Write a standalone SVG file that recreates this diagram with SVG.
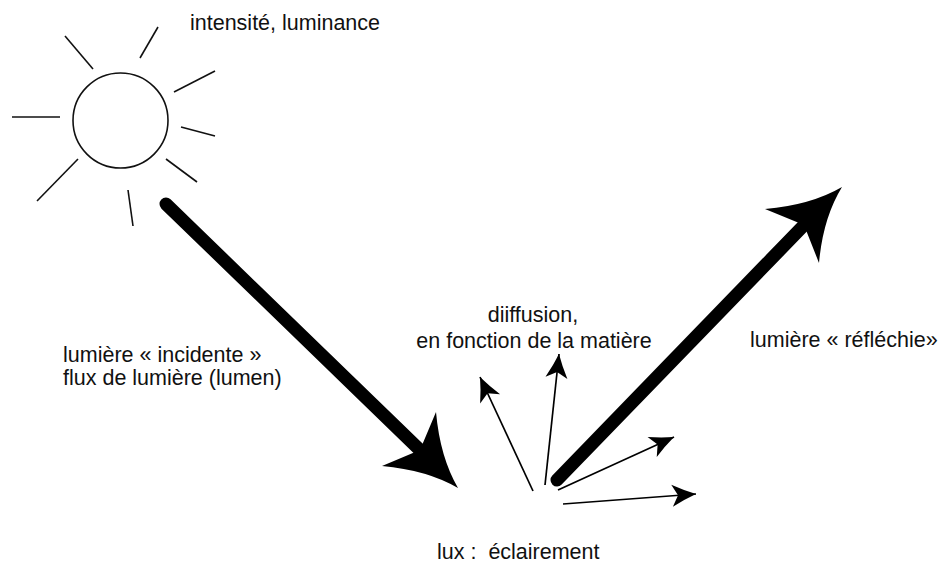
<svg xmlns="http://www.w3.org/2000/svg" width="938" height="565" viewBox="0 0 938 565">
<style>
  text { font-family: "Liberation Sans", Arial, sans-serif; font-size: 21.5px; fill: #111; }
  .ray { stroke: #111; stroke-width: 1.6; fill: none; }
  .thick { stroke: #000; stroke-width: 13; stroke-linecap: round; fill: none; }
  .thin { stroke: #000; stroke-width: 1.7; fill: none; marker-end: url(#head); }
  .head { fill: #000; }
</style>
<defs>
  <marker id="head" viewBox="-28 -14 30 28" refX="0" refY="0" markerWidth="30" markerHeight="28" markerUnits="userSpaceOnUse" orient="auto">
    <path d="M0,0 Q-12,-4.5 -24,-11 L-18,0 L-24,11 Q-12,4.5 0,0 Z" fill="#000" stroke="none"/>
  </marker>
</defs>
<rect width="938" height="565" fill="#fff"/>
<g id="sun">
  <circle cx="120.5" cy="120.5" r="47.5" class="ray"/>
  <line class="ray" x1="65" y1="36" x2="93" y2="69"/>
  <line class="ray" x1="158" y1="27" x2="140" y2="58"/>
  <line class="ray" x1="215" y1="71" x2="174" y2="92"/>
  <line class="ray" x1="12" y1="117" x2="60" y2="117"/>
  <line class="ray" x1="181" y1="127" x2="215" y2="136"/>
  <line class="ray" x1="166" y1="159" x2="197" y2="182"/>
  <line class="ray" x1="78" y1="159" x2="37" y2="201"/>
  <line class="ray" x1="128" y1="190" x2="133" y2="226"/>
</g>
<g id="label-intensite">
  <text x="190" y="30">intensité, luminance</text>
</g>
<g id="label-incidente">
  <text x="63" y="362">lumière « incidente »</text>
  <text x="63" y="385">flux de lumière (lumen)</text>
</g>
<g id="label-diffusion">
  <text x="533" y="322" text-anchor="middle">diiffusion,</text>
  <text x="534" y="348" text-anchor="middle">en fonction de la matière</text>
</g>
<g id="label-reflechie">
  <text x="750" y="347">lumière « réfléchie»</text>
</g>
<g id="label-lux">
  <text x="437" y="559" xml:space="preserve">lux :  éclairement</text>
</g>
<g id="connectors">
  <g id="incident">
    <line class="thick" x1="166" y1="204" x2="424" y2="454"/>
    <path class="head" d="M458,488 Q427,470 382,466 L420,450 L436,412 Q440,457 458,488 Z"/>
  </g>
  <g id="reflected">
    <line class="thick" x1="557" y1="480" x2="808" y2="221"/>
    <path class="head" d="M842,187 Q811,205 765,209 L804,225 L819,263 Q823,218 842,187 Z"/>
  </g>
  <g id="diffusion">
    <line class="thin" x1="533" y1="491" x2="480" y2="377"/>
    <line class="thin" x1="545" y1="485" x2="559" y2="354"/>
    <line class="thin" x1="558" y1="490" x2="674" y2="437"/>
    <line class="thin" x1="563" y1="504" x2="696" y2="494"/>
  </g>
</g>
</svg>
